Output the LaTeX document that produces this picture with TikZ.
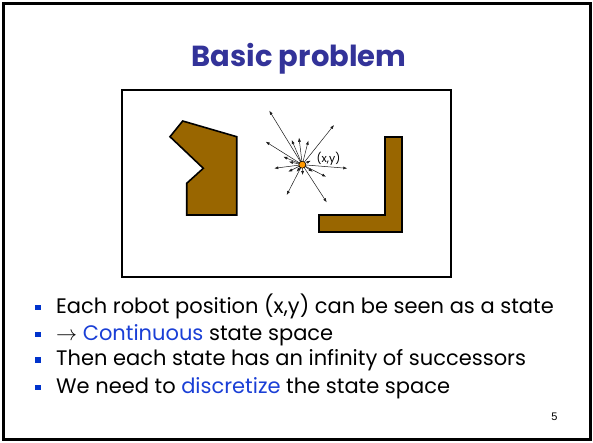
\RequirePackage{fix-cm}
\documentclass[tikz,border=0pt]{standalone}
\usepackage{fontspec}
\setmainfont{Poppins}
\newfontfamily\arialfont{Liberation Sans}
\usepackage{xcolor}
\usepackage{tikz}
\usetikzlibrary{arrows.meta, positioning}

\definecolor{titleblue}{HTML}{333399}
\definecolor{wordblue}{HTML}{1A3FD6}
\definecolor{bulletblue}{HTML}{0033CC}
\definecolor{obstbrown}{HTML}{996600}
\definecolor{robotorange}{HTML}{FF9900}

\begin{document}
\begin{tikzpicture}[
  x=1pt, y=-1pt,
  frame/.style={draw=black, line width=2pt, inner sep=0pt},
  obstacle/.style={draw=black, line width=1.6pt, fill=obstbrown, line join=miter},
  move/.style={-{Latex[length=4pt, width=3pt]}, line width=0.5pt, draw=black!90},
  bulletbox/.style={fill=bulletblue, minimum size=5.6pt, inner sep=0pt},
  item/.style={anchor=base west, inner sep=0pt, font=\fontsize{21}{25}\selectfont},
  every node/.style={inner sep=0pt},
]
\useasboundingbox (0,0) rectangle (593,442);
\draw[line width=2.5pt] (3.5,3.5) rectangle (590.5,439.5);

% title
\node[anchor=base, font=\fontsize{29}{34}\selectfont\bfseries, text=titleblue] (title) at (299,66.7) {Basic problem};

% world with obstacles
\node[frame, minimum width=329pt, minimum height=187pt] (world) at (286.5,183.5) {};
\draw[obstacle] (182.7,121) -- (236.7,136.7) -- (236.7,215) -- (186.7,215)
  -- (186.7,183.3) -- (203.3,168.3) -- (170,136.7) -- cycle;
\draw[obstacle] (385,136.7) -- (401.7,136.7) -- (401.7,231.7) -- (319,231.7)
  -- (319,215) -- (385,215) -- cycle;

% robot and its possible moves
\coordinate (robotc) at (302.3,164.7);
\foreach \tx/\ty [count=\i] in {269.3/110.7, 334/125, 299/137.7, 291.7/140,
    308.3/140.7, 265.7/141.7, 283.3/156.7, 289/161.7, 310.7/160.7,
    274.3/168.3, 347.3/168.3, 288.3/171.7, 296.7/171.7, 302.7/175,
    312.7/171.7, 326/176.7, 286.7/195, 326.7/202.3} {
  \coordinate (tip\i) at (\tx,\ty);
  \draw[move] (robotc) -- (tip\i);
}
\node[circle, draw, line width=0.6pt, fill=robotorange, minimum size=7pt] (robot) at (robotc) {};
\node[font=\fontsize{11}{13}\selectfont] (xy) at (328.5,158.7) {(x,y)};

% bullet list
\node[bulletbox] (b1) at (38,307.5) {};
\node[item] (l1) at (56,313) {Each robot position (x,y) can be seen as a state};
\node[bulletbox] (b2) at (38,334.5) {};
\node[item] (l2) at (56,340) {$\rightarrow$ \textcolor{wordblue}{Continuous} state space};
\node[bulletbox] (b3) at (38,360.2) {};
\node[item] (l3) at (56,365.7) {Then each state has an infinity of successors};
\node[bulletbox] (b4) at (38,387.5) {};
\node[item] (l4) at (56,393) {We need to \textcolor{wordblue}{discretize} the state space};

% page number
\node[anchor=base, font=\arialfont\fontsize{11}{13}\selectfont] (pagenum) at (554.5,420) {5};
\end{tikzpicture}
\end{document}
